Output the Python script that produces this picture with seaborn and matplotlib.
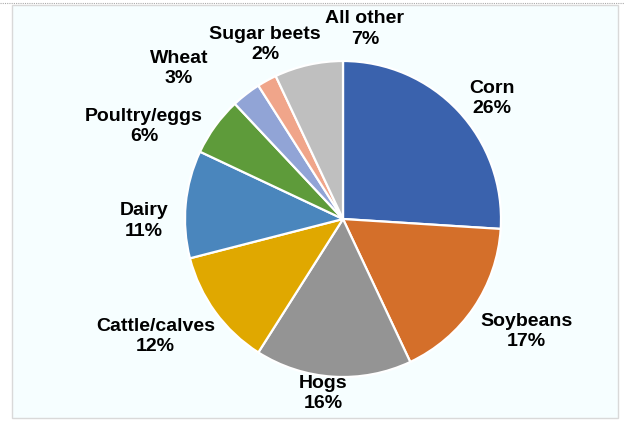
import matplotlib.pyplot as plt
import matplotlib.patches as mpatches
import seaborn as sns
import numpy as np

# Share of cash receipts by commodity
categories = ["Corn", "Soybeans", "Hogs", "Cattle/calves", "Dairy",
              "Poultry/eggs", "Wheat", "Sugar beets", "All other"]
shares = [26, 17, 16, 12, 11, 6, 3, 2, 7]
colors = ["#3A62AD", "#D46F2A", "#949494", "#E0A800", "#4A86BD",
          "#5E9B3A", "#91A4D6", "#F0A58A", "#BFBFBF"]

# label placement: (distance from centre in radii, angle in degrees)
label_pos = [(1.21, 39.0), (1.36, -31.5), (1.11, -96.5), (1.40, -148.0),
             (1.26, 180.6), (1.39, 155.0), (1.41, 137.5), (1.21, 114.0),
             (1.21, 83.4)]

sns.set_theme(style="white")
plt.rcParams["font.family"] = ["Liberation Sans", "DejaVu Sans"]

W, H = 624, 423
fig = plt.figure(figsize=(W / 100, H / 100), dpi=100)
fig.patch.set_facecolor("white")

# chart area frame
frame = mpatches.Rectangle((12 / W, 5 / H), 606 / W, 413 / H,
                           transform=fig.transFigure, facecolor="#F6FEFF",
                           edgecolor="#D9D9D9", linewidth=1.0, zorder=-5)
fig.patches.append(frame)
fig.add_artist(plt.Line2D([0, 1], [1 - 3 / H, 1 - 3 / H], transform=fig.transFigure,
                          color="#AAAAAA", linewidth=0.8, linestyle=(0, (1, 1)),
                          zorder=-5))

cx, cy, r = 343, 219, 158
ax = fig.add_axes([(cx - r) / W, (H - cy - r) / H, 2 * r / W, 2 * r / H])
ax.patch.set_alpha(0)

ax.pie(shares, colors=colors, startangle=90, counterclock=False, radius=1,
       wedgeprops=dict(edgecolor="white", linewidth=1.6))
ax.set_xlim(-1, 1)
ax.set_ylim(-1, 1)
ax.set_aspect("equal")
ax.axis("off")

for name, val, (dist, ang) in zip(categories, shares, label_pos):
    a = np.deg2rad(ang)
    ax.text(dist * np.cos(a), dist * np.sin(a), f"{name}\n{val}%",
            ha="center", va="center", fontsize=14, fontweight="bold",
            color="black", linespacing=1.25, clip_on=False)

fig.savefig("out.png", dpi=100)
